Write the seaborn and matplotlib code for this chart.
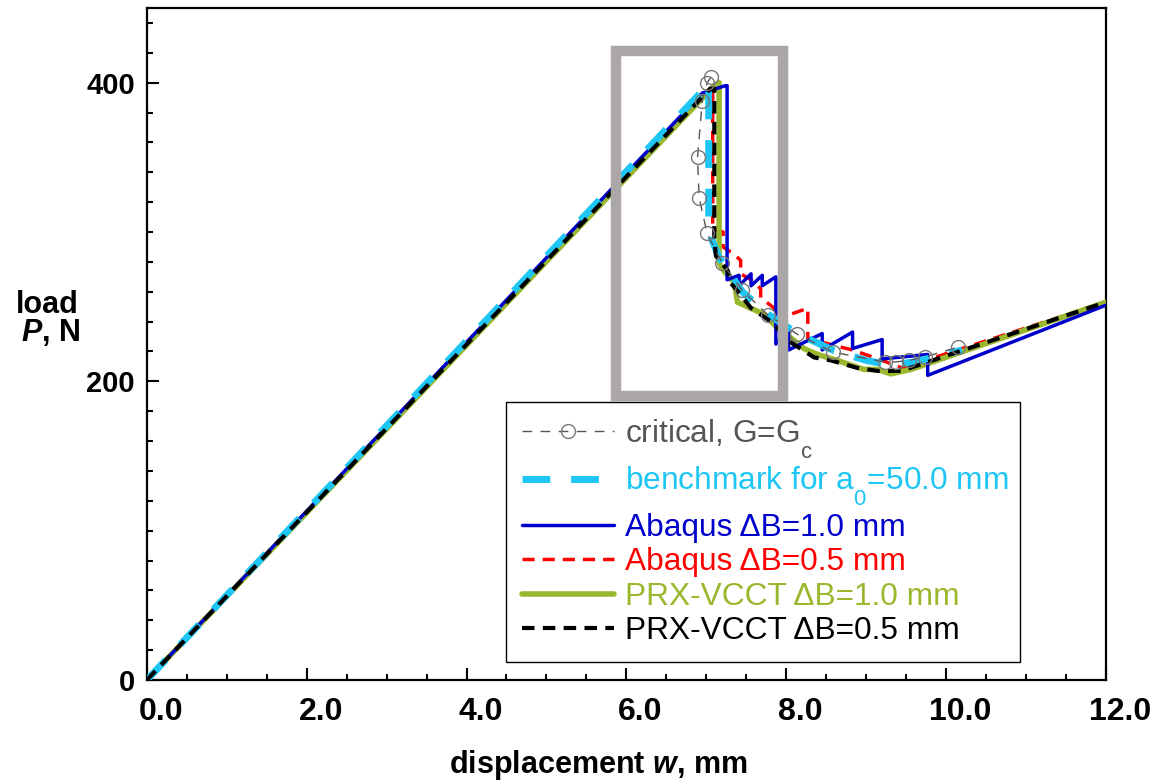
import matplotlib
matplotlib.use("Agg")
import matplotlib.pyplot as plt
import matplotlib.transforms as mtransforms
from matplotlib.patches import Rectangle
from matplotlib.ticker import MultipleLocator
import seaborn as sns

# load P (N) vs displacement w (mm)

# critical points, G = Gc
critical_w = [7.06, 7.01, 6.95, 6.89, 6.91, 7.01, 7.20, 7.45, 7.77, 8.14, 8.58, 9.23, 9.37, 9.54, 9.73, 10.15]
critical_P = [403.6, 400, 388, 350, 323, 299, 279, 261, 244.5, 231.5, 219.6, 213, 213, 214, 216.3, 222.9]

# benchmark for a0 = 50 mm
bench_w = [0, 7.03, 7.03, 7.16, 7.45, 7.77, 8.14, 8.60, 9.00, 9.30, 9.60, 10.20]
bench_P = [0, 399, 300, 283, 260, 245, 232, 220.5, 214, 211, 213, 221]

# Abaqus dB = 1.0 mm
abq10_w = [0, 6.95, 7.24, 7.26, 7.26, 7.41, 7.41, 7.56, 7.56, 7.70, 7.70, 7.87, 7.87,
           8.03, 8.03, 8.45, 8.45, 8.83, 8.83, 9.20, 9.20, 9.77, 9.77, 12.0]
abq10_P = [0, 393, 398, 398, 268, 271, 264, 272, 264, 271, 264, 270, 225,
           236, 221, 232, 221, 233, 222, 228, 215, 218, 204, 251]

# Abaqus dB = 0.5 mm
abq05_w = [0, 7.08, 7.08, 7.21, 7.21, 7.35, 7.43, 7.43, 7.56, 7.68, 7.68, 7.85, 7.85,
           8.27, 8.27, 8.60, 8.83, 9.20, 9.45, 12.0]
abq05_P = [0, 398, 302, 300, 290, 285, 281, 272, 268, 262, 256, 249, 241,
           249, 229, 224, 221, 214, 209, 253]

# PRX-VCCT dB = 1.0 mm
prx10_w = [0, 7.10, 7.16, 7.16, 7.22, 7.35, 7.39, 7.72, 7.85, 8.06, 8.22, 8.39, 8.64,
           8.97, 9.14, 9.31, 9.56, 12.0]
prx10_P = [0, 398, 400, 279, 274, 266, 253, 245, 238, 229, 222, 218, 214,
           208, 208, 205, 208, 253]

# PRX-VCCT dB = 0.5 mm
prx05_w = [0, 7.05, 7.10, 7.10, 7.12, 7.27, 7.30, 7.37, 7.56, 7.70, 7.81, 8.06, 8.35,
           8.56, 8.89, 9.14, 9.44, 12.0]
prx05_P = [0, 396, 396, 296, 284, 274, 266, 262, 249, 244, 240, 226, 216,
           214, 209, 207, 207, 253]

x_ticks = [0, 2, 4, 6, 8, 10, 12]
x_labels = ["0.0", "2.0", "4.0", "6.0", "8.0", "10.0", "12.0"]
y_ticks = [0, 200, 400]

sns.set_style("white")
plt.rcParams["font.family"] = ["Liberation Sans", "DejaVu Sans"]
plt.rcParams["text.color"] = "black"
plt.rcParams["xtick.color"] = "black"
plt.rcParams["ytick.color"] = "black"
plt.rcParams["mathtext.fontset"] = "custom"
plt.rcParams["mathtext.rm"] = "Liberation Sans"
plt.rcParams["mathtext.it"] = "Liberation Sans:italic:bold"
plt.rcParams["mathtext.bf"] = "Liberation Sans:bold"

# deeper subscripts, like the original figure
try:
    import matplotlib._mathtext as _mt
    _mt.FontConstantsBase.sub1 = 0.95
except Exception:
    pass

fig = plt.figure(figsize=(11.56, 7.82), dpi=100)
ax = fig.add_axes([0.127, 0.1304, 0.8297, 0.8594])

sns.lineplot(x=critical_w, y=critical_P, ax=ax, sort=False, estimator=None,
             color="#555555", lw=1.0, linestyle=(0, (7, 6)), marker="o", ms=10,
             mfc="none", mec="#777777", mew=1.0, zorder=7, label=r"critical, G=G$_\mathrm{c}$")
sns.lineplot(x=bench_w, y=bench_P, ax=ax, sort=False, estimator=None,
             color="#1ec6f5", lw=5, linestyle=(0, (4, 3)), zorder=5.5,
             label=r"benchmark for a$_\mathrm{0}$=50.0 mm")
sns.lineplot(x=abq10_w, y=abq10_P, ax=ax, sort=False, estimator=None,
             color="#0000cc", lw=2.5, zorder=5, label="Abaqus ΔB=1.0 mm")
sns.lineplot(x=abq05_w, y=abq05_P, ax=ax, sort=False, estimator=None,
             color="#ff0000", lw=2.5, linestyle=(0, (3.5, 2.3)), zorder=3,
             label="Abaqus ΔB=0.5 mm")
sns.lineplot(x=prx10_w, y=prx10_P, ax=ax, sort=False, estimator=None,
             color="#9ab82e", lw=4, zorder=4, label="PRX-VCCT ΔB=1.0 mm")
sns.lineplot(x=prx05_w, y=prx05_P, ax=ax, sort=False, estimator=None,
             color="black", lw=3, linestyle=(0, (3, 2)), zorder=6,
             label="PRX-VCCT ΔB=0.5 mm")

# grey frame around the load drop
ax.add_patch(Rectangle((5.87, 190), 2.09, 231.4, fill=False, ec="#aba7a7",
                       lw=7.5, joinstyle="miter", zorder=8))

ax.set_xlim(0, 12)
ax.set_ylim(0, 450)
ax.set_xticks(x_ticks)
ax.set_xticklabels(x_labels)
ax.set_yticks(y_ticks)
ax.xaxis.set_minor_locator(MultipleLocator(0.5))
ax.yaxis.set_minor_locator(MultipleLocator(20))
ax.tick_params(which="both", direction="in", bottom=True, left=True, top=False, right=False,
               width=1.5, color="black", labelcolor="black")
ax.tick_params(which="major", length=8.5)
ax.tick_params(which="minor", length=4.5)
ax.tick_params(axis="x", labelsize=23, pad=12)
ax.tick_params(axis="y", labelsize=21, pad=8.5)
for lab in ax.get_xticklabels() + ax.get_yticklabels():
    lab.set_fontweight("bold")
shift = mtransforms.ScaledTranslation(0.14, 0, fig.dpi_scale_trans)
for lab in ax.xaxis.get_majorticklabels():
    lab.set_transform(lab.get_transform() + shift)

for sp in ax.spines.values():
    sp.set_color("black")
    sp.set_linewidth(1.6)
ax.set_xlabel("")
ax.set_ylabel("")

fig.text(598 / 1156, 1 - 765 / 782, r"displacement $\mathit{w}$, mm", ha="center", va="center",
         fontsize=22, fontweight="bold")
fig.text(47 / 1156, 1 - 305 / 782, "load", ha="center", va="center", fontsize=22, fontweight="bold")
fig.text(51 / 1156, 1 - 333 / 782, r"$\mathit{P}$, N", ha="center", va="center",
         fontsize=22, fontweight="bold")

leg = ax.legend(loc="lower left", bbox_to_anchor=(0.375, 0.027, 0.535, 0.385), mode="expand",
                borderaxespad=0, fontsize=22.8, frameon=True, fancybox=False, framealpha=1,
                edgecolor="black", handlelength=2.9, handletextpad=0.33, labelspacing=0.14,
                borderpad=0.5, labelcolor="linecolor")
leg.get_frame().set_linewidth(1.0)
leg.set_zorder(10)

fig.savefig("out.png", dpi=100)
